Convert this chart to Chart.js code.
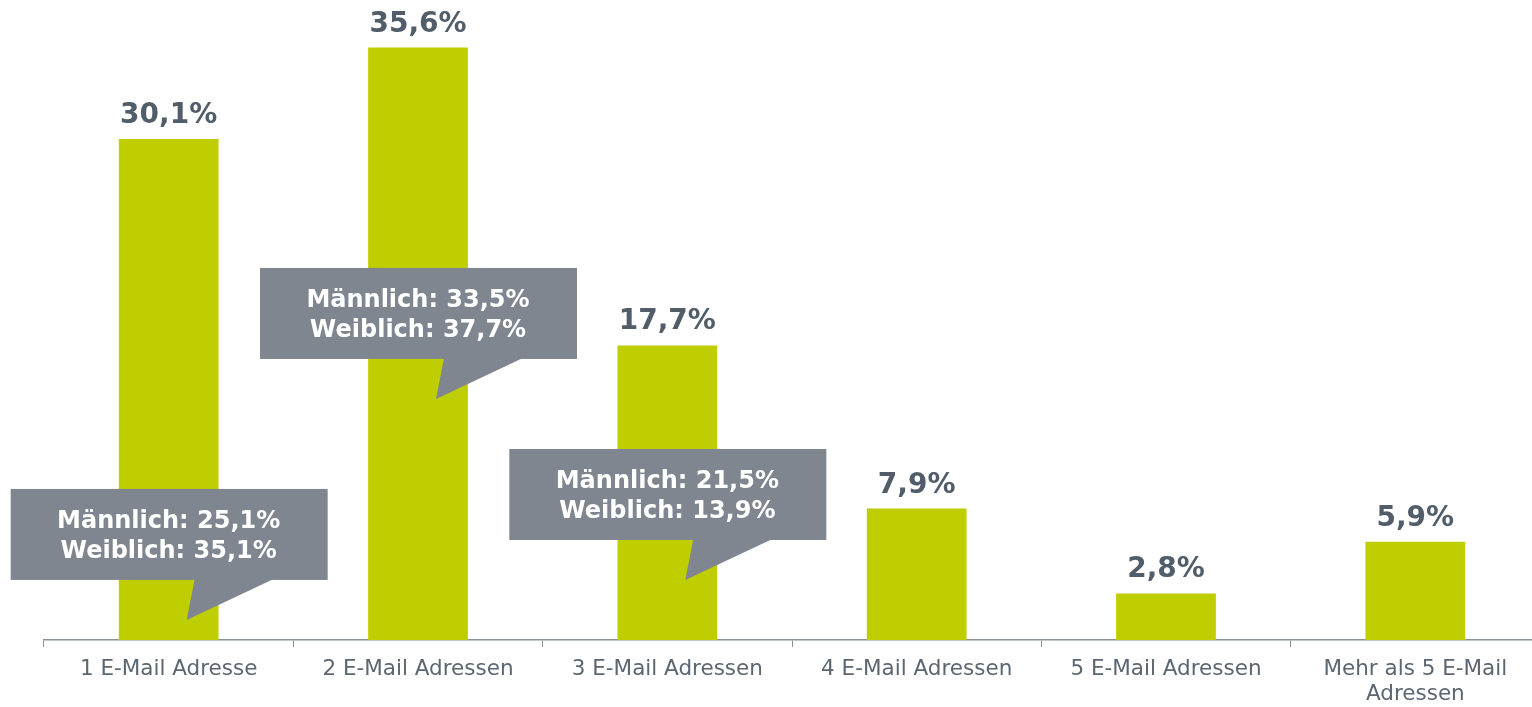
<!DOCTYPE html>
<html>
<head>
<meta charset="utf-8">
<script src="https://cdn.jsdelivr.net/npm/chart.js@4"></script>
<style>
  html, body { margin: 0; padding: 0; background: #ffffff; overflow: hidden; }
  #wrap { position: relative; width: 1540px; height: 707px; }
</style>
</head>
<body>
<div id="wrap"><canvas id="c"></canvas></div>
<script>
// ---- data ----
const categories = [
  "1 E-Mail Adresse",
  "2 E-Mail Adressen",
  "3 E-Mail Adressen",
  "4 E-Mail Adressen",
  "5 E-Mail Adressen",
  ["Mehr als 5 E-Mail", "Adressen"]
];
const values = [30.1, 35.6, 17.7, 7.9, 2.8, 5.9];
const calloutIndex = [0, 1, 2];
const calloutMale = [25.1, 33.5, 21.5];
const calloutFemale = [35.1, 37.7, 13.9];

// ---- styles ----
const FONT = '"DejaVu Sans", Verdana, sans-serif';
const BAR_COLOR = '#bfce00';
const LABEL_COLOR = '#515d68';
const TICK_COLOR = '#5b6670';
const AXIS_COLOR = '#8a939c';
const CALLOUT_COLOR = '#7f868f';

const fmt = v => v.toFixed(1).replace('.', ',') + '%';

const valueLabels = {
  id: 'valueLabels',
  afterDatasetsDraw(chart) {
    const ctx = chart.ctx;
    const meta = chart.getDatasetMeta(0);
    ctx.save();
    ctx.font = 'bold 28px ' + FONT;
    ctx.fillStyle = LABEL_COLOR;
    ctx.textAlign = 'center';
    ctx.textBaseline = 'alphabetic';
    meta.data.forEach((bar, i) => {
      ctx.fillText(fmt(values[i]), bar.x, bar.y - 16);
    });
    ctx.restore();
  }
};

const callouts = {
  id: 'callouts',
  afterDatasetsDraw(chart, args, opts) {
    const ctx = chart.ctx;
    const meta = chart.getDatasetMeta(0);
    const ys = chart.scales.y;
    ctx.save();
    calloutIndex.forEach((idx, k) => {
      const cx = meta.data[idx].x;
      const bottom = ys.getPixelForValue(opts.bottoms[k]);
      const w = opts.width, h = opts.height;
      const left = cx - w / 2 + 0.5;
      const top = bottom - h;
      ctx.fillStyle = CALLOUT_COLOR;
      ctx.fillRect(left, top, w, h);
      ctx.beginPath();
      ctx.moveTo(cx + opts.baseL, bottom - 1);
      ctx.lineTo(cx + opts.baseR, bottom - 1);
      ctx.lineTo(cx + opts.tipX, bottom + opts.tipY);
      ctx.closePath();
      ctx.fill();
      ctx.fillStyle = '#ffffff';
      ctx.font = 'bold 24px ' + FONT;
      ctx.textAlign = 'center';
      ctx.textBaseline = 'alphabetic';
      const mid = top + h / 2;
      ctx.fillText('Männlich: ' + fmt(calloutMale[k]), cx, mid - 6);
      ctx.fillText('Weiblich: ' + fmt(calloutFemale[k]), cx, mid + 24);
    });
    ctx.restore();
  }
};

new Chart(document.getElementById('c'), {
  type: 'bar',
  data: {
    labels: categories,
    datasets: [{
      data: values,
      backgroundColor: BAR_COLOR,
      borderWidth: 0,
      categoryPercentage: 1.0,
      barPercentage: 0.4
    }]
  },
  options: {
    responsive: true,
    maintainAspectRatio: false,
    animation: false,
    events: [],
    layout: { padding: { left: 44, right: 0, top: 0, bottom: 0 } },
    plugins: {
      legend: { display: false },
      tooltip: { enabled: false },
      callouts: {
        bottoms: [3.61, 16.89, 6.01],
        width: 317, height: 91,
        baseL: 26, baseR: 105, tipX: 18, tipY: 40
      }
    },
    scales: {
      x: {
        afterFit(s) { s.height = 67; },
        grid: {
          display: true,
          drawOnChartArea: false,
          drawTicks: true,
          tickLength: 7,
          color: AXIS_COLOR,
          lineWidth: 1
        },
        border: { display: true, color: AXIS_COLOR, width: 1.5 },
        ticks: {
          color: TICK_COLOR,
          font: { family: FONT, size: 21.5, lineHeight: 1.17 },
          padding: 10,
          maxRotation: 0,
          autoSkip: false
        }
      },
      y: {
        display: false,
        min: 0,
        max: 38.46
      }
    }
  },
  plugins: [valueLabels, callouts]
});
</script>
</body>
</html>
